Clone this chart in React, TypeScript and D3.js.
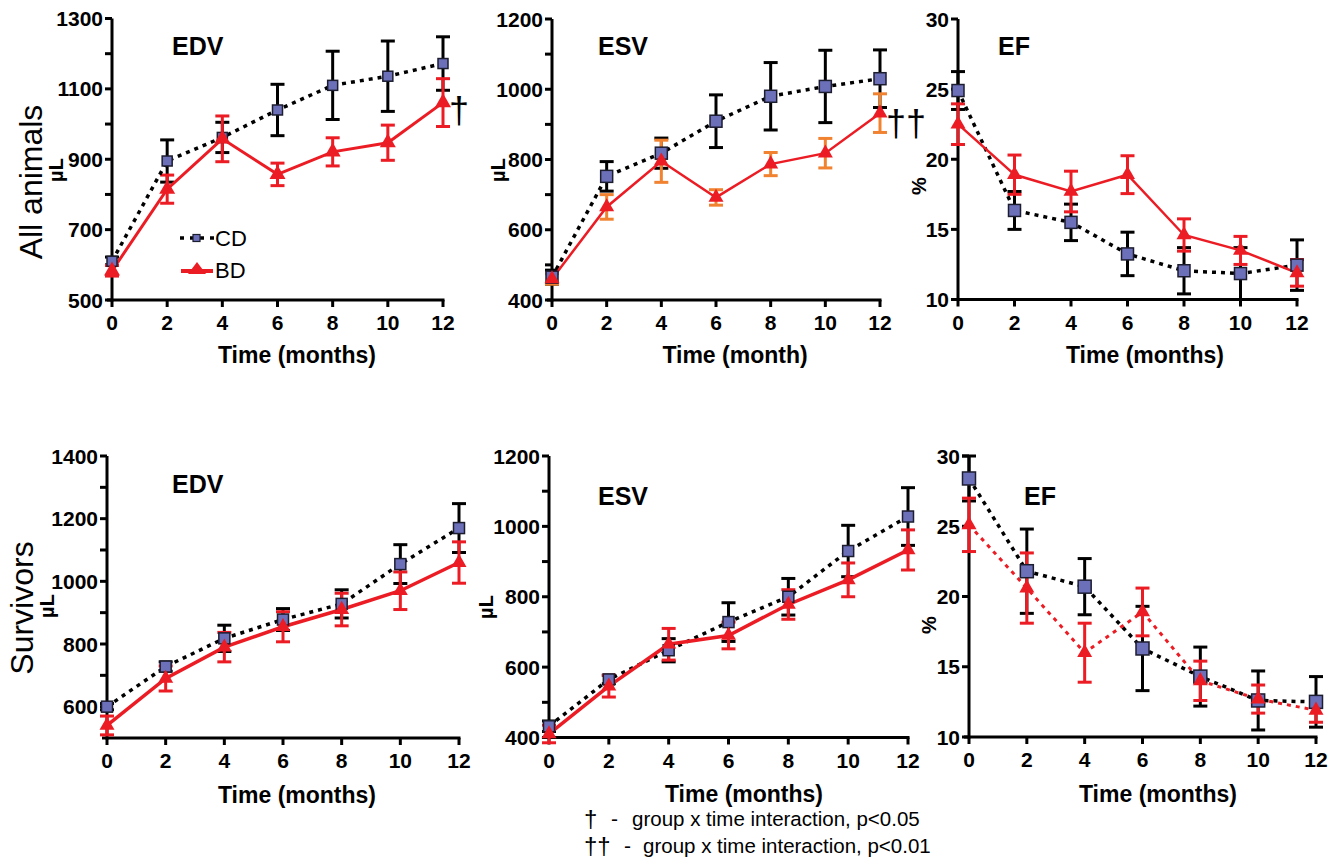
import React from 'react';
import * as d3 from 'd3';

// ---------- data ----------
const months = [0, 2, 4, 6, 8, 10, 12];

// All animals
const allEdvCD = [610, 895, 962, 1040, 1110, 1136, 1172];
const allEdvCDErr = [12, 60, 43, 73, 97, 100, 76];
const allEdvBD = [583, 815, 958, 857, 921, 947, 1061];
const allEdvBDErr = [15, 40, 65, 32, 40, 50, 68];

const allEsvCD = [465, 752, 818, 909, 980, 1008, 1030];
const allEsvCDErr = [20, 42, 43, 75, 96, 103, 82];
const allEsvBD = [460, 665, 795, 692, 787, 818, 932];
const allEsvBDErr = [15, 35, 60, 22, 33, 42, 55];

const allEfCD = [24.9, 16.35, 15.5, 13.25, 12.05, 11.85, 12.45];
const allEfCDErr = [1.35, 1.35, 1.3, 1.55, 1.65, 1.85, 1.8];
const allEfBD = [22.5, 18.9, 17.7, 18.9, 14.6, 13.5, 11.9];
const allEfBDErr = [1.45, 1.4, 1.45, 1.35, 1.15, 1.0, 0.95];

// Survivors
const survEdvCD = [600, 728, 818, 878, 928, 1055, 1170];
const survEdvCDErr = [10, 15, 42, 35, 45, 62, 78];
const survEdvBD = [540, 690, 790, 855, 910, 970, 1060];
const survEdvBDErr = [30, 40, 47, 48, 52, 60, 66];

const survEsvCD = [432, 565, 648, 728, 800, 930, 1028];
const survEsvCDErr = [15, 12, 33, 55, 52, 73, 82];
const survEsvBD = [410, 546, 665, 690, 778, 848, 933];
const survEsvBDErr = [25, 31, 45, 38, 42, 48, 57];

const survEfCD = [28.4, 21.8, 20.7, 16.3, 14.3, 12.6, 12.5];
const survEfCDErr = [1.6, 3.0, 2.0, 3.0, 2.1, 2.1, 1.8];
const survEfBD = [25.1, 20.6, 16.0, 18.9, 14.0, 12.7, 11.9];
const survEfBDErr = [1.9, 2.5, 2.1, 1.7, 1.4, 1.0, 0.85];

// tick labels
const edvTopTicks = [500, 700, 900, 1100, 1300];
const edvTopMinor = [600, 800, 1000, 1200];
const esvTicks = [400, 600, 800, 1000, 1200];
const esvMinor = [500, 700, 900, 1100];
const efTicks = [10, 15, 20, 25, 30];
const edvBotTicks = [600, 800, 1000, 1200, 1400];
const edvBotMinor = [700, 900, 1100, 1300];

const legendLabels = ['CD', 'BD'];
const footnotes = [
  { mark: '†', text: 'group x time interaction, p<0.05' },
  { mark: '††', text: 'group x time interaction, p<0.01' },
];

// ---------- styles ----------
const RED = '#ec1c24';
const ORANGE = '#f08230';
const SQ_FILL = '#6c70b9';
const SQ_STROKE = '#1d1d30';
const FONT = '"Liberation Sans", Arial, Helvetica, sans-serif';

type Panel = {
  x0: number; x1: number; yTop: number; yBot: number;
  domain: [number, number]; ticks: number[]; minor: number[];
  cd: number[]; cdErr: number[]; bd: number[]; bdErr: number[];
  bdErrColor: string; bdDotted: boolean; bdWidth: number;
  sq: number; tri: number;
  title: string; titleX: number; titleY: number;
  xTitle: string; xTitleX: number; xTitleY: number;
  yLabel: string; yLabelX: number; yLabelY: number;
  dagger?: string; daggerX?: number; daggerY?: number;
};

const panels: Panel[] = [
  {
    x0: 112, x1: 443, yTop: 18.5, yBot: 300, domain: [500, 1300], ticks: edvTopTicks, minor: edvTopMinor,
    cd: allEdvCD, cdErr: allEdvCDErr, bd: allEdvBD, bdErr: allEdvBDErr,
    bdErrColor: RED, bdDotted: false, bdWidth: 3, sq: 10, tri: 16,
    title: 'EDV', titleX: 172, titleY: 55,
    xTitle: 'Time (months)', xTitleX: 297, xTitleY: 363,
    yLabel: 'µL', yLabelX: 63, yLabelY: 170,
    dagger: '†', daggerX: 449, daggerY: 123,
  },
  {
    x0: 552, x1: 880, yTop: 19, yBot: 300, domain: [400, 1200], ticks: esvTicks, minor: esvMinor,
    cd: allEsvCD, cdErr: allEsvCDErr, bd: allEsvBD, bdErr: allEsvBDErr,
    bdErrColor: ORANGE, bdDotted: false, bdWidth: 2.5, sq: 12, tri: 15,
    title: 'ESV', titleX: 598, titleY: 55,
    xTitle: 'Time (month)', xTitleX: 735, xTitleY: 363,
    yLabel: 'µL', yLabelX: 505, yLabelY: 170,
    dagger: '††', daggerX: 886, daggerY: 136,
  },
  {
    x0: 958, x1: 1297, yTop: 19, yBot: 299.5, domain: [10, 30], ticks: efTicks, minor: [],
    cd: allEfCD, cdErr: allEfCDErr, bd: allEfBD, bdErr: allEfBDErr,
    bdErrColor: RED, bdDotted: false, bdWidth: 2.5, sq: 12, tri: 15,
    title: 'EF', titleX: 998, titleY: 55,
    xTitle: 'Time (months)', xTitleX: 1145, xTitleY: 363,
    yLabel: '%', yLabelX: 926, yLabelY: 186,
  },
  {
    x0: 107, x1: 459, yTop: 456, yBot: 738, domain: [500, 1400], ticks: edvBotTicks, minor: edvBotMinor,
    cd: survEdvCD, cdErr: survEdvCDErr, bd: survEdvBD, bdErr: survEdvBDErr,
    bdErrColor: RED, bdDotted: false, bdWidth: 3.5, sq: 11, tri: 15,
    title: 'EDV', titleX: 172, titleY: 493,
    xTitle: 'Time (months)', xTitleX: 297, xTitleY: 803,
    yLabel: 'µL', yLabelX: 54, yLabelY: 606,
  },
  {
    x0: 549, x1: 908, yTop: 456, yBot: 737.5, domain: [400, 1200], ticks: esvTicks, minor: esvMinor,
    cd: survEsvCD, cdErr: survEsvCDErr, bd: survEsvBD, bdErr: survEsvBDErr,
    bdErrColor: RED, bdDotted: false, bdWidth: 3.5, sq: 11, tri: 15,
    title: 'ESV', titleX: 598, titleY: 505,
    xTitle: 'Time (months)', xTitleX: 744, xTitleY: 802,
    yLabel: 'µL', yLabelX: 493, yLabelY: 607,
  },
  {
    x0: 969, x1: 1316, yTop: 456, yBot: 737, domain: [10, 30], ticks: efTicks, minor: [],
    cd: survEfCD, cdErr: survEfCDErr, bd: survEfBD, bdErr: survEfBDErr,
    bdErrColor: RED, bdDotted: true, bdWidth: 3, sq: 13, tri: 15,
    title: 'EF', titleX: 1024, titleY: 505,
    xTitle: 'Time (months)', xTitleX: 1158, xTitleY: 802,
    yLabel: '%', yLabelX: 936, yLabelY: 625,
  },
];

const triPath = (w: number) => {
  const h = w * 0.87;
  return `M0,${-h * 2 / 3}L${w / 2},${h / 3}L${-w / 2},${h / 3}Z`;
};

const DOT_DASH = '4 5';

function PanelView({ p }: { p: Panel }) {
  const x = d3.scaleLinear().domain([0, 12]).range([p.x0, p.x1]);
  const y = d3.scaleLinear().domain(p.domain).range([p.yBot, p.yTop]);
  const line = d3.line<number>().x((_, i) => x(months[i])).y((d) => y(d));
  const cap = 7;
  return (
    <g>
      {/* axes */}
      <line x1={p.x0} x2={p.x0} y1={p.yTop} y2={p.yBot + 1.5} stroke="#000" strokeWidth={3} />
      <line x1={p.x0 - 5} x2={p.x1 + 1.5} y1={p.yBot} y2={p.yBot} stroke="#000" strokeWidth={3} />
      {p.ticks.map((t) => (
        <g key={'yt' + t}>
          <line x1={p.x0 - 7} x2={p.x0} y1={y(t)} y2={y(t)} stroke="#000" strokeWidth={3} />
          <text x={p.x0 - 9} y={y(t)} dy="0.36em" textAnchor="end" fontSize={21} fontWeight="bold" fontFamily={FONT}>{t}</text>
        </g>
      ))}
      {p.minor.map((t) => (
        <line key={'ym' + t} x1={p.x0 - 7} x2={p.x0} y1={y(t)} y2={y(t)} stroke="#000" strokeWidth={3} />
      ))}
      {months.map((m) => (
        <g key={'xt' + m}>
          <line x1={x(m)} x2={x(m)} y1={p.yBot} y2={p.yBot + 7} stroke="#000" strokeWidth={3} />
          <text x={x(m)} y={p.yBot + 30} textAnchor="middle" fontSize={21} fontWeight="bold" fontFamily={FONT}>{m}</text>
        </g>
      ))}
      <text x={p.xTitleX} y={p.xTitleY} textAnchor="middle" fontSize={23} fontWeight="bold" fontFamily={FONT}>{p.xTitle}</text>
      <text transform={`translate(${p.yLabelX},${p.yLabelY}) rotate(-90)`} textAnchor="middle" fontSize={20} fontWeight="bold" fontFamily={FONT}>{p.yLabel}</text>
      <text x={p.titleX} y={p.titleY} fontSize={25} fontWeight="bold" fontFamily={FONT}>{p.title}</text>

      {/* CD error bars */}
      {p.cd.map((v, i) => {
        const cx = x(months[i]);
        const a = y(v + p.cdErr[i]);
        const b = y(v - p.cdErr[i]);
        return (
          <g key={'cde' + i} stroke="#000" strokeWidth={3}>
            <line x1={cx} x2={cx} y1={a} y2={b} />
            <line x1={cx - cap} x2={cx + cap} y1={a} y2={a} />
            <line x1={cx - cap} x2={cx + cap} y1={b} y2={b} />
          </g>
        );
      })}
      {/* BD error bars */}
      {p.bd.map((v, i) => {
        const cx = x(months[i]);
        const a = y(v + p.bdErr[i]);
        const b = y(v - p.bdErr[i]);
        return (
          <g key={'bde' + i} stroke={p.bdErrColor} strokeWidth={3}>
            <line x1={cx} x2={cx} y1={a} y2={b} />
            <line x1={cx - cap} x2={cx + cap} y1={a} y2={a} />
            <line x1={cx - cap} x2={cx + cap} y1={b} y2={b} />
          </g>
        );
      })}
      {/* lines */}
      <path d={line(p.cd) || ''} fill="none" stroke="#000" strokeWidth={3.5} strokeDasharray={DOT_DASH} />
      <path d={line(p.bd) || ''} fill="none" stroke={RED} strokeWidth={p.bdWidth}
        strokeDasharray={p.bdDotted ? DOT_DASH : undefined} />
      {/* markers */}
      {p.cd.map((v, i) => (
        <rect key={'cdm' + i} x={x(months[i]) - p.sq / 2} y={y(v) - p.sq / 2} width={p.sq} height={p.sq}
          fill={SQ_FILL} stroke={SQ_STROKE} strokeWidth={1.5} />
      ))}
      {p.bd.map((v, i) => (
        <path key={'bdm' + i} d={triPath(p.tri)} transform={`translate(${x(months[i])},${y(v)})`} fill={RED} />
      ))}
      {p.dagger && (
        <text x={p.daggerX} y={p.daggerY} fontSize={36} fontFamily={FONT}>{p.dagger}</text>
      )}
    </g>
  );
}

export default function App() {
  return (
    <svg width={1337} height={866} style={{ position: 'absolute', left: 0, top: 0, background: '#fff' }}>
      <rect width={1337} height={866} fill="#fff" />
      {panels.map((p, i) => <PanelView key={i} p={p} />)}

      {/* row labels */}
      <text transform="translate(42,182) rotate(-90)" textAnchor="middle" fontSize={32} fontFamily={FONT}>All animals</text>
      <text transform="translate(33,608) rotate(-90)" textAnchor="middle" fontSize={32} fontFamily={FONT}>Survivors</text>

      {/* legend */}
      <line x1={180} x2={214} y1={238} y2={238} stroke="#000" strokeWidth={3.5} strokeDasharray="4 6" />
      <rect x={193} y={234.5} width={7} height={7} fill={SQ_FILL} stroke={SQ_STROKE} strokeWidth={1.2} />
      <text x={215} y={246} fontSize={22} fontFamily={FONT}>{legendLabels[0]}</text>
      <line x1={181} x2={213} y1={271} y2={271} stroke={RED} strokeWidth={4} />
      <path d="M0,-8L9,4L-9,4Z" transform="translate(197,270)" fill={RED} />
      <text x={215} y={278} fontSize={22} fontFamily={FONT}>{legendLabels[1]}</text>

      {/* footnotes */}
      {footnotes.map((f, i) => (
        <g key={'fn' + i}>
          <text x={584} y={827 + i * 27} fontSize={24} fontFamily={FONT}>{f.mark}</text>
          <text x={i === 0 ? 611 : 624} y={826 + i * 27} fontSize={21} fontFamily={FONT}>-</text>
          <text x={i === 0 ? 632 : 643} y={826 + i * 27} fontSize={20.5} fontFamily={FONT}>{f.text}</text>
        </g>
      ))}
    </svg>
  );
}
